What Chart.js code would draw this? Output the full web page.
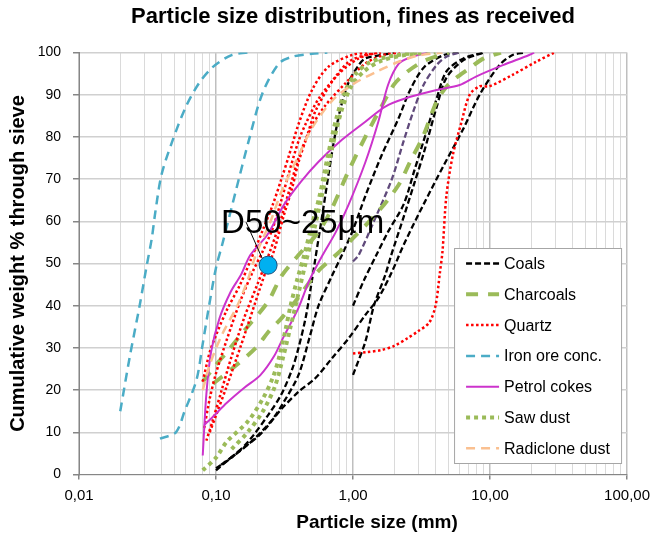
<!DOCTYPE html>
<html>
<head>
<meta charset="utf-8">
<script src="https://cdn.jsdelivr.net/npm/chart.js@4.4.1/dist/chart.umd.min.js"></script>
<style>
  html, body { margin: 0; padding: 0; background: #fff; }
</style>
</head>
<body>
<canvas id="psdChart" width="657" height="535"></canvas>
<script>
// categories shown in the legend
const categories = ['Coals', 'Charcoals', 'Quartz', 'Iron ore conc.', 'Petrol cokes', 'Saw dust', 'Radiclone dust'];

// x tick labels (log axis, decades)
const xTickValues = [0.01, 0.1, 1, 10, 100];
const xTickLabels = ['0,01', '0,10', '1,00', '10,00', '100,00'];

// curves: [particle size mm, cumulative %]
const coal1 = [[0.1,1],[0.14,5],[0.21,9.5],[0.3,15.5],[0.4,19.6],[0.53,22.8],[0.7,27.5],[0.93,32.3],[1.23,37.8],[1.53,41.8],[1.92,48],[2.34,54.4],[3.27,64],[4.6,73.3],[6.4,82],[8.4,90],[11.7,97],[14.6,99.4],[18,100]];
const coal2 = [[0.109,2.3],[0.17,7],[0.25,12.5],[0.31,17],[0.4,23.6],[0.48,32.3],[0.56,40],[0.7,47],[0.83,52],[1.0,58],[1.23,66],[1.62,75.7],[2.15,84.4],[2.6,91],[3.3,96.5],[4.6,99.4],[6,100]];
const coal3 = [[0.1,1.5],[0.13,4],[0.174,8],[0.245,14.5],[0.3,19],[0.36,25],[0.4,30],[0.45,37],[0.49,44],[0.53,51],[0.6,62],[0.7,76],[0.8,86],[0.93,93],[1.1,97],[1.23,98.6],[1.62,99.4],[2,100]];
const coal4 = [[1.0,40],[1.2,46],[1.48,52],[1.8,57.5],[2.34,64],[2.8,72],[3.27,79],[4.07,89],[4.8,95.5],[6.4,98.6],[9,100]];
const coal5 = [[1.0,23.6],[1.23,31.5],[1.42,40],[1.72,47.3],[1.9,52],[2.34,61],[2.8,69],[3.27,76],[4.07,87],[4.8,94],[6.4,98.2],[9,100]];
const coal6 = [[1.0,50.5],[1.1,52],[1.42,60],[1.92,70],[2.34,79],[2.75,86],[3.27,92.3],[4.07,97],[4.8,99],[6,100]];
const charcoal1 = [[0.08,22],[0.1,26],[0.12,29],[0.16,34],[0.24,41],[0.3,47],[0.4,52],[0.56,57.5],[0.7,63],[0.93,72],[1.23,80],[1.6,87],[2,92.5],[2.5,95.5],[3.3,98],[5,100]];
const charcoal2 = [[0.095,21.5],[0.13,25],[0.195,30],[0.244,34],[0.3,37],[0.4,42],[0.55,48],[0.75,52],[1.0,56],[1.5,62],[2.15,68.6],[2.6,74],[3.27,80.4],[4.07,88.3],[5,92.5],[7.1,96.3],[9,98.6],[12,100]];
const quartz1 = [[0.08,22],[0.09,29],[0.1,33],[0.12,39],[0.15,45],[0.18,51],[0.22,58],[0.26,64],[0.3,70],[0.34,75.5],[0.4,83],[0.5,91],[0.66,96.6],[0.98,99.4],[1.3,100]];
const quartz2 = [[0.082,11],[0.09,18],[0.1,24],[0.12,32],[0.15,41],[0.185,48],[0.22,53],[0.257,58],[0.3,65],[0.34,71.4],[0.4,79],[0.45,83],[0.56,89],[0.79,95],[1.1,98.6],[1.5,100]];
const quartz3 = [[0.085,8],[0.095,13],[0.11,20],[0.13,28],[0.16,37],[0.2,45],[0.236,51],[0.288,59],[0.34,67],[0.4,75],[0.5,82.5],[0.63,87.5],[0.88,92.7],[1.23,97.4],[1.7,99.5],[2.2,100]];
const quartz4 = [[0.09,10],[0.1,14],[0.12,21],[0.15,30],[0.19,40],[0.23,48],[0.265,53],[0.31,61],[0.36,68],[0.4,74],[0.46,80],[0.53,86],[0.7,93],[0.93,97.8],[1.23,99.4],[1.6,100]];
const quartz5 = [[1.0,28.7],[1.25,29],[1.62,29.5],[2.0,30.5],[2.5,32.3],[3.0,34],[3.6,36],[4.0,40],[4.3,47.7],[4.5,53],[4.8,66],[5.35,75.7],[6.2,83.6],[7.1,90],[8.4,92],[9.9,92],[14.6,94.7],[21.7,97.8],[29.5,100]];
const ironOre1 = [[0.02,15],[0.0235,28],[0.0277,40],[0.031,49],[0.034,56],[0.036,62],[0.04,71],[0.048,79],[0.06,87],[0.075,92.7],[0.095,96.6],[0.13,99.4],[0.17,100]];
const ironOre2 = [[0.039,8.5],[0.051,10],[0.059,15],[0.072,22.4],[0.08,31],[0.089,40],[0.1,49],[0.111,54.5],[0.14,67.4],[0.174,79.3],[0.218,90.3],[0.288,97.4],[0.36,99],[0.5,99.7],[0.65,100]];
const petrol1 = [[0.08,4.5],[0.085,19],[0.092,29],[0.106,37],[0.128,43.3],[0.152,47.3],[0.178,52],[0.237,56.8],[0.313,63.9],[0.42,69.5],[0.56,74.1],[0.83,79.3],[1.23,83.6],[1.72,87.2],[2.4,89.1],[4.07,91.1],[6,92.3],[7.9,94.3],[12.4,97],[19.3,99.4],[21,100]];
const petrol2 = [[0.082,11.7],[0.097,14],[0.12,17],[0.16,20.5],[0.21,23.5],[0.265,28],[0.31,32.5],[0.4,39.5],[0.48,46],[0.6,52],[0.75,57.5],[0.93,64],[1.23,74],[1.53,83.6],[1.8,92.3],[2.15,97.3],[2.6,98.8],[3.5,100]];
const sawDust1 = [[0.08,1],[0.1,4],[0.12,7.8],[0.17,12.5],[0.22,18],[0.26,23],[0.29,28],[0.32,34],[0.35,40],[0.39,46],[0.44,52],[0.5,59],[0.57,66],[0.65,75],[0.75,84],[0.88,91],[1.05,95],[1.3,97.5],[1.8,99],[3,100]];
const sawDust2 = [[0.13,6],[0.17,10],[0.22,15],[0.27,21],[0.31,28],[0.35,35],[0.4,43],[0.45,50],[0.52,58],[0.6,67],[0.7,77],[0.82,86],[0.97,92],[1.2,95.5],[1.6,98],[2.5,99.5],[4,100]];
const radiclone1 = [[0.08,20],[0.09,26],[0.11,33],[0.143,40],[0.17,46],[0.195,52],[0.25,60],[0.3,67],[0.4,75.5],[0.5,82],[0.7,88.5],[1.0,92.5],[1.5,95.5],[2.15,97.8],[3,99.3],[4.5,100]];

// D50 marker
const d50Point = [0.24, 49.6];
const d50Text = 'D50~25µm';

// which category each curve belongs to
const curves = [
  { cat: 0, pts: coal1 }, { cat: 0, pts: coal2 }, { cat: 0, pts: coal3 },
  { cat: 0, pts: coal4 }, { cat: 0, pts: coal5 }, { cat: 0, pts: coal6, color: '#604A7B' },
  { cat: 1, pts: charcoal1 }, { cat: 1, pts: charcoal2 },
  { cat: 2, pts: quartz1 }, { cat: 2, pts: quartz2 }, { cat: 2, pts: quartz3 },
  { cat: 2, pts: quartz4 }, { cat: 2, pts: quartz5 },
  { cat: 3, pts: ironOre1 }, { cat: 3, pts: ironOre2 },
  { cat: 4, pts: petrol1 }, { cat: 4, pts: petrol2 },
  { cat: 5, pts: sawDust1 }, { cat: 5, pts: sawDust2 },
  { cat: 6, pts: radiclone1 }
];

const styles = [
  { color: '#000000', width: 2.3, dash: [6, 3] },
  { color: '#9BBB59', width: 4, dash: [12, 10] },
  { color: '#FF0000', width: 2.5, dash: [2.5, 2.5] },
  { color: '#4BACC6', width: 2.5, dash: [9, 6] },
  { color: '#CC33CC', width: 2, dash: [] },
  { color: '#9BBB59', width: 4, dash: [4, 4] },
  { color: '#FAC090', width: 2.5, dash: [9, 6] }
];

const FONT = '"Liberation Sans", Arial, sans-serif';

const datasets = [{
  label: 'D50',
  data: [{ x: d50Point[0], y: d50Point[1] }],
  showLine: false,
  pointRadius: 9,
  pointBackgroundColor: '#00B0F0',
  pointBorderColor: '#1F4E79',
  pointBorderWidth: 1
}];
curves.slice().reverse().forEach(c => {
  const st = styles[c.cat];
  datasets.push({
    label: categories[c.cat],
    data: c.pts.map(p => ({ x: p[0], y: p[1] })),
    borderColor: c.color || st.color,
    borderWidth: st.width,
    borderDash: st.dash,
    pointRadius: 0,
    fill: false,
    tension: 0.3
  });
});

// minor grid positions 1..9 per decade
const xGrid = [];
for (let e = -2; e < 2; e++) {
  for (let k = 1; k < 10; k++) xGrid.push(+(k * Math.pow(10, e)).toPrecision(3));
}
xGrid.push(100);
const isDecade = v => Math.abs(Math.log10(v) - Math.round(Math.log10(v))) < 1e-6;

const overlay = {
  id: 'overlay',
  afterDatasetsDraw(chart) {
    const { ctx, chartArea } = chart;
    const m = chart.getDatasetMeta(0).data[0];
    ctx.save();
    // label + leader line
    ctx.strokeStyle = '#000';
    ctx.lineWidth = 1;
    ctx.setLineDash([]);
    ctx.beginPath();
    ctx.moveTo(m.x - 22, m.y - 43);
    ctx.lineTo(m.x - 6, m.y - 7);
    ctx.stroke();
    ctx.fillStyle = '#000';
    ctx.font = '33px ' + FONT;
    ctx.textBaseline = 'alphabetic';
    ctx.fillText(d50Text, m.x - 47, m.y - 32);

    // legend box
    const bx = chartArea.right - 173, by = chartArea.bottom - 226.5, bw = 167, bh = 215;
    ctx.fillStyle = '#fff';
    ctx.fillRect(bx, by, bw, bh);
    ctx.strokeStyle = '#A6A6A6';
    ctx.strokeRect(bx + 0.5, by + 0.5, bw, bh);
    categories.forEach((name, i) => {
      const st = styles[i];
      const cy = by + 15.5 + i * 30.8;
      ctx.setLineDash(st.dash);
      ctx.strokeStyle = st.color;
      ctx.lineWidth = st.width;
      ctx.beginPath();
      ctx.moveTo(bx + 12, cy);
      ctx.lineTo(bx + 45, cy);
      ctx.stroke();
      ctx.setLineDash([]);
      ctx.fillStyle = '#000';
      ctx.font = '16px ' + FONT;
      ctx.textBaseline = 'middle';
      ctx.fillText(name, bx + 50, cy + 1);
    });

    // x axis title (sits a bit right of the plot centre in the original)
    ctx.font = 'bold 19px ' + FONT;
    ctx.textAlign = 'center';
    ctx.textBaseline = 'middle';
    ctx.fillText('Particle size (mm)', 377, chartArea.bottom + 48.5);
    ctx.restore();
  }
};

new Chart(document.getElementById('psdChart'), {
  type: 'line',
  data: { datasets },
  options: {
    responsive: false,
    animation: false,
    events: [],
    layout: { padding: { left: 0, right: 27, top: 0, bottom: 0 } },
    plugins: {
      legend: { display: false },
      tooltip: { enabled: false },
      title: {
        display: true,
        text: 'Particle size distribution, fines as received',
        color: '#000',
        fullSize: false,
        font: { family: FONT, size: 22, weight: 'bold' },
        padding: { top: 4, bottom: 22.1 }
      }
    },
    scales: {
      x: {
        type: 'logarithmic',
        min: 0.01,
        max: 100,
        afterBuildTicks: scale => {
          scale.ticks = xGrid.map(v => ({ value: v, major: isDecade(v) }));
        },
        afterFit: scale => { scale.height = 60.5; },
        ticks: {
          autoSkip: false,
          maxRotation: 0,
          padding: 7,
          color: '#000',
          font: { family: FONT, size: 15 },
          callback: v => {
            const i = xTickValues.findIndex(t => Math.abs(t - v) < t * 1e-6);
            return i >= 0 ? xTickLabels[i] : '';
          }
        },
        grid: {
          color: c => (c.tick && isDecade(c.tick.value)) ? '#BFBFBF' : '#DADADA',
          lineWidth: c => (c.tick && isDecade(c.tick.value)) ? 1.5 : 1,
          tickLength: 5,
          tickColor: c => (c.tick && isDecade(c.tick.value)) ? '#868686' : 'rgba(0,0,0,0)'
        },
        border: { color: '#868686' }
      },
      y: {
        min: 0,
        max: 100,
        afterFit: scale => { scale.width = 79; },
        ticks: {
          stepSize: 10,
          padding: 12,
          color: '#000',
          font: { family: FONT, size: 14 }
        },
        grid: {
          color: '#D0D0D0',
          lineWidth: 1.5,
          tickLength: 6,
          tickColor: '#868686'
        },
        border: { color: '#868686' },
        title: {
          display: true,
          text: 'Cumulative weight % through sieve',
          color: '#000',
          font: { family: FONT, size: 20, weight: 'bold' },
          padding: { top: 6, bottom: 0 }
        }
      }
    }
  },
  plugins: [overlay]
});
</script>
</body>
</html>
